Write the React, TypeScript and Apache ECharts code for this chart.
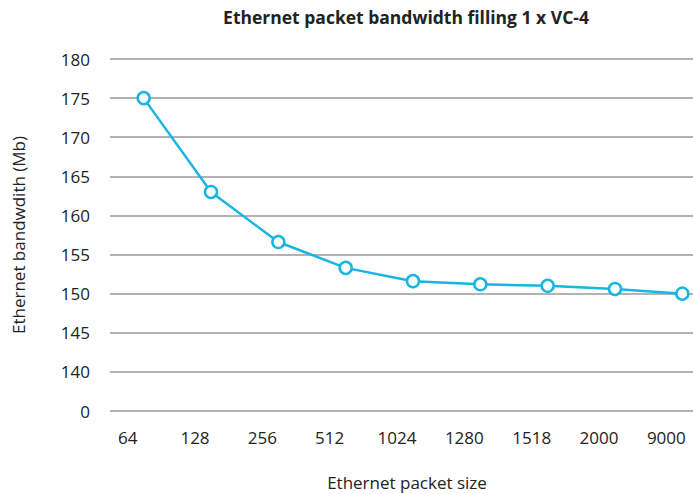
import React, { useEffect, useRef } from "react";
import * as echarts from "echarts";

const packetSizes = ["64", "128", "256", "512", "1024", "1280", "1518", "2000", "9000"];
const bandwidth = [175, 163, 156.6, 153.3, 151.6, 151.2, 151.0, 150.6, 150.0];
const yTicks = [135, 140, 145, 150, 155, 160, 165, 170, 175, 180];
const chartTitle = "Ethernet packet bandwidth filling 1 x VC-4";
const xTitle = "Ethernet packet size";
const yTitle = "Ethernet bandwdith (Mb)";

const FONT = "'Open Sans', 'Noto Sans', sans-serif";

export default function App() {
  const ref = useRef<HTMLDivElement>(null);
  useEffect(() => {
    document.body.style.margin = "0";
    if (!ref.current) return;
    const chart = echarts.init(ref.current, undefined, { renderer: "svg" });
    chart.setOption({
      animation: false,
      backgroundColor: "#ffffff",
      grid: { left: 110, right: 0, top: 59, bottom: 83, containLabel: false },
      graphic: [
        {
          type: "text",
          x: 406,
          y: 17,
          style: {
            text: chartTitle,
            font: `bold 17.5px ${FONT}`,
            fill: "#222",
            align: "center",
            verticalAlign: "middle",
          },
        },
        {
          type: "text",
          x: 407,
          y: 482,
          style: {
            text: xTitle,
            font: `17px ${FONT}`,
            fill: "#222",
            align: "center",
            verticalAlign: "middle",
          },
        },
        {
          type: "text",
          x: 18,
          y: 235,
          rotation: Math.PI / 2,
          style: {
            text: yTitle,
            font: `17px ${FONT}`,
            fill: "#222",
            align: "center",
            verticalAlign: "middle",
          },
        },
      ],
      xAxis: {
        type: "category",
        data: packetSizes,
        boundaryGap: true,
        axisLine: { show: false },
        axisTick: { show: false },
        axisLabel: {
          color: "#222",
          fontSize: 17,
          fontFamily: FONT,
          margin: 18,
          padding: [0, 32, 0, 0],
        },
        splitLine: { show: false },
      },
      yAxis: {
        type: "value",
        min: yTicks[0],
        max: yTicks[yTicks.length - 1],
        interval: 5,
        axisLine: { show: false },
        axisTick: { show: false },
        axisLabel: {
          color: "#222",
          fontSize: 17,
          fontFamily: FONT,
          margin: 20,
          formatter: (v: number) => (v === yTicks[0] ? "0" : String(v)),
        },
        splitLine: { show: true, lineStyle: { color: "#9a9a9a", width: 1.5 } },
      },
      series: [
        {
          type: "line",
          data: bandwidth,
          symbol: "circle",
          symbolSize: 12,
          lineStyle: { color: "#17b6e2", width: 2.5 },
          itemStyle: { color: "#ffffff", borderColor: "#17b6e2", borderWidth: 2.5 },
        },
      ],
    });
    return () => chart.dispose();
  }, []);
  return (
    <div style={{ width: 693, height: 494, overflow: "hidden" }}>
      <div ref={ref} style={{ width: 716, height: 494 }} />
    </div>
  );
}
